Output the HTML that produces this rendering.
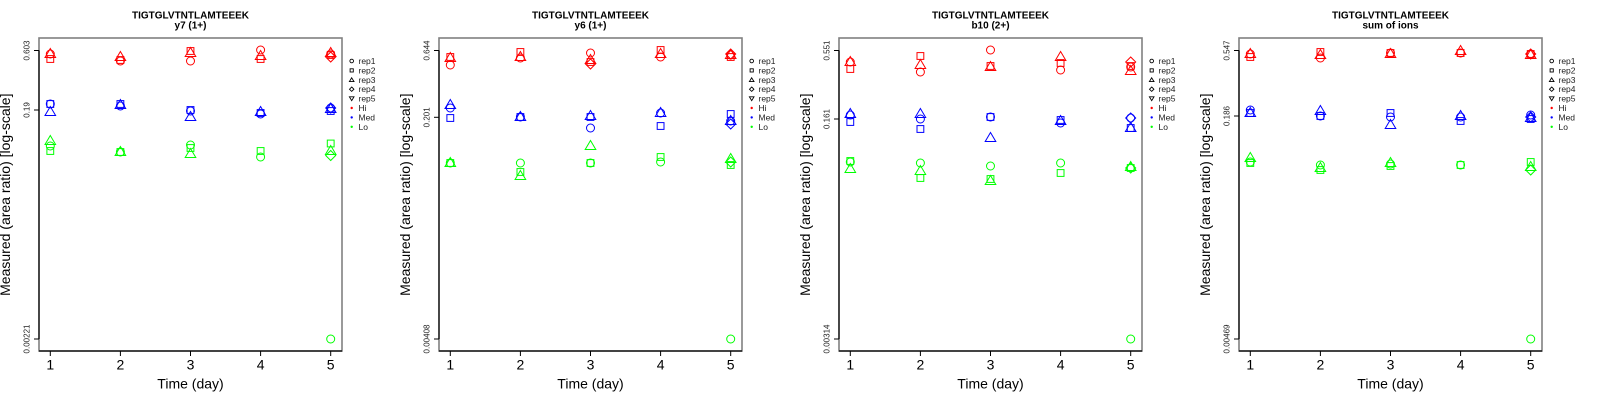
<!DOCTYPE html>
<html><head><meta charset="utf-8"><style>
html,body{margin:0;padding:0;background:#fff;}
svg{display:block;}
text{font-family:"Liberation Sans",Arial,sans-serif;}
.ti{font-size:10px;font-weight:bold;text-anchor:middle;fill:#000;}
.xl{font-size:14px;text-anchor:middle;fill:#000;}
.yt{font-size:8px;text-anchor:middle;fill:#222;}
.lg{font-size:8.5px;fill:#222;}
.R{stroke:#ff0000;fill:none;stroke-width:1;}
.B{stroke:#0000ff;fill:none;stroke-width:1;}
.G{stroke:#00ff00;fill:none;stroke-width:1;}
.K{stroke:#000;fill:none;stroke-width:0.9;}
</style></head><body>
<svg width="1600" height="400" viewBox="0 0 1600 400" xmlns="http://www.w3.org/2000/svg" xmlns:xlink="http://www.w3.org/1999/xlink">
<defs>
<circle id="c" cx="0" cy="0" r="4"/>
<rect id="s" x="-3.4" y="-3.4" width="6.8" height="6.8"/>
<path id="t" d="M0,-4.5 L5.3,4.5 L-5.3,4.5Z"/>
<path id="d" d="M0,-5 L5,0 L0,5 L-5,0Z"/>
<path id="v" d="M0,4.5 L5.3,-4.5 L-5.3,-4.5Z"/>
<circle id="lc" cx="0" cy="0" r="1.8"/>
<rect id="ls" x="-1.6" y="-1.6" width="3.2" height="3.2"/>
<path id="lt" d="M0,-2 L2.3,1.8 L-2.3,1.8Z"/>
<path id="ld" d="M0,-2.2 L2.2,0 L0,2.2 L-2.2,0Z"/>
<path id="lv" d="M0,2 L2.3,-1.8 L-2.3,-1.8Z"/>
<g id="frame">
<rect x="39" y="38" width="303" height="313" fill="none" stroke="#808080" stroke-width="1.6"/>
<line x1="39" y1="351" x2="342" y2="351" stroke="#000" stroke-width="1.2"/>
<line x1="39" y1="50.5" x2="39" y2="339" stroke="#000" stroke-width="1.2"/>
<g stroke="#000" stroke-width="1">
<line x1="50.3" y1="351" x2="50.3" y2="356"/>
<line x1="120.4" y1="351" x2="120.4" y2="356"/>
<line x1="190.5" y1="351" x2="190.5" y2="356"/>
<line x1="260.6" y1="351" x2="260.6" y2="356"/>
<line x1="330.7" y1="351" x2="330.7" y2="356"/>
<line x1="34" y1="50.5" x2="39" y2="50.5"/>
<line x1="34" y1="339" x2="39" y2="339"/>
</g>
</g>
<g id="legend">
<g class="K">
<use href="#lc" x="351.7" y="61"/>
<use href="#ls" x="351.7" y="70.4"/>
<use href="#lt" x="351.7" y="79.8"/>
<use href="#ld" x="351.7" y="89.2"/>
<use href="#lv" x="351.7" y="98.6"/>
</g>
<circle cx="351.7" cy="108" r="1.2" fill="#ff0000"/>
<circle cx="351.7" cy="117.4" r="1.2" fill="#0000ff"/>
<circle cx="351.7" cy="126.8" r="1.2" fill="#00ff00"/>
</g>
</defs>

<!-- ================= Panel 1 ================= -->
<g transform="translate(0,0)">
<use href="#frame"/>
<line x1="34" y1="110" x2="39" y2="110" stroke="#000"/>
<use href="#legend"/>
<text class="lg" x="358.5" y="64">rep1</text>
<text class="lg" x="358.5" y="73.4">rep2</text>
<text class="lg" x="358.5" y="82.8">rep3</text>
<text class="lg" x="358.5" y="92.2">rep4</text>
<text class="lg" x="358.5" y="101.6">rep5</text>
<text class="lg" x="358.5" y="111">Hi</text>
<text class="lg" x="358.5" y="120.4">Med</text>
<text class="lg" x="358.5" y="129.8">Lo</text>
<text class="ti" x="190.5" y="18.5">TIGTGLVTNTLAMTEEEK</text>
<text class="ti" x="190.5" y="28.5">y7 (1+)</text>
<text class="xl" x="50.3" y="369.5">1</text>
<text class="xl" x="120.4" y="369.5">2</text>
<text class="xl" x="190.5" y="369.5">3</text>
<text class="xl" x="260.6" y="369.5">4</text>
<text class="xl" x="330.7" y="369.5">5</text>
<text class="xl" x="190.5" y="388.5">Time (day)</text>
<text class="xl" transform="translate(10,194.7) rotate(-90)" x="0" y="0">Measured (area ratio) [log-scale]</text>
<text class="yt" transform="translate(29.5,50.5) rotate(-90)">0.603</text>
<text class="yt" transform="translate(29.5,110) rotate(-90)">0.19</text>
<text class="yt" transform="translate(29.5,339) rotate(-90)">0.00221</text>
<g class="R">
<use href="#c" x="50.3" y="54"/><use href="#s" x="50.3" y="59"/><use href="#t" x="50.3" y="53"/>
<use href="#c" x="120.4" y="61"/><use href="#s" x="120.4" y="60"/><use href="#t" x="120.4" y="56"/>
<use href="#c" x="190.5" y="61"/><use href="#s" x="190.5" y="51"/><use href="#t" x="190.5" y="52"/>
<use href="#c" x="260.6" y="50"/><use href="#s" x="260.6" y="59"/><use href="#t" x="260.6" y="55"/>
<use href="#c" x="330.7" y="54"/><use href="#s" x="330.7" y="55"/><use href="#t" x="330.7" y="52"/><use href="#d" x="330.7" y="57"/>
</g>
<g class="B">
<use href="#c" x="50.3" y="104"/><use href="#s" x="50.3" y="104"/><use href="#t" x="50.3" y="111"/>
<use href="#c" x="120.4" y="106"/><use href="#s" x="120.4" y="104"/><use href="#t" x="120.4" y="104"/>
<use href="#c" x="190.5" y="111"/><use href="#s" x="190.5" y="110"/><use href="#t" x="190.5" y="116"/>
<use href="#c" x="260.6" y="114"/><use href="#s" x="260.6" y="113"/><use href="#t" x="260.6" y="111"/>
<use href="#c" x="330.7" y="108"/><use href="#s" x="330.7" y="111"/><use href="#t" x="330.7" y="108"/><use href="#d" x="330.7" y="108"/>
</g>
<g class="G">
<use href="#c" x="50.3" y="146"/><use href="#s" x="50.3" y="151"/><use href="#t" x="50.3" y="140"/>
<use href="#c" x="120.4" y="152"/><use href="#s" x="120.4" y="152"/><use href="#t" x="120.4" y="151"/>
<use href="#c" x="190.5" y="145"/><use href="#s" x="190.5" y="148"/><use href="#t" x="190.5" y="153"/>
<use href="#c" x="260.6" y="157"/><use href="#s" x="260.6" y="151"/>
<use href="#c" x="330.7" y="339"/><use href="#s" x="330.7" y="143.5"/><use href="#t" x="330.7" y="150"/><use href="#d" x="330.7" y="155.5"/>
</g>
</g>

<!-- ================= Panel 2 ================= -->
<g transform="translate(400,0)">
<use href="#frame"/>
<line x1="34" y1="117.3" x2="39" y2="117.3" stroke="#000"/>
<use href="#legend"/>
<text class="lg" x="358.5" y="64">rep1</text>
<text class="lg" x="358.5" y="73.4">rep2</text>
<text class="lg" x="358.5" y="82.8">rep3</text>
<text class="lg" x="358.5" y="92.2">rep4</text>
<text class="lg" x="358.5" y="101.6">rep5</text>
<text class="lg" x="358.5" y="111">Hi</text>
<text class="lg" x="358.5" y="120.4">Med</text>
<text class="lg" x="358.5" y="129.8">Lo</text>
<text class="ti" x="190.5" y="18.5">TIGTGLVTNTLAMTEEEK</text>
<text class="ti" x="190.5" y="28.5">y6 (1+)</text>
<text class="xl" x="50.3" y="369.5">1</text>
<text class="xl" x="120.4" y="369.5">2</text>
<text class="xl" x="190.5" y="369.5">3</text>
<text class="xl" x="260.6" y="369.5">4</text>
<text class="xl" x="330.7" y="369.5">5</text>
<text class="xl" x="190.5" y="388.5">Time (day)</text>
<text class="xl" transform="translate(10,194.7) rotate(-90)" x="0" y="0">Measured (area ratio) [log-scale]</text>
<text class="yt" transform="translate(29.5,50.5) rotate(-90)">0.644</text>
<text class="yt" transform="translate(29.5,117.3) rotate(-90)">0.201</text>
<text class="yt" transform="translate(29.5,339) rotate(-90)">0.00408</text>
<g class="R">
<use href="#c" x="50.3" y="65"/><use href="#s" x="50.3" y="57"/><use href="#t" x="50.3" y="57"/>
<use href="#c" x="120.4" y="58"/><use href="#s" x="120.4" y="52"/><use href="#t" x="120.4" y="56"/>
<use href="#c" x="190.5" y="53"/><use href="#s" x="190.5" y="62"/><use href="#t" x="190.5" y="59"/><use href="#d" x="190.5" y="64"/>
<use href="#c" x="260.6" y="57"/><use href="#s" x="260.6" y="50"/><use href="#t" x="260.6" y="53"/>
<use href="#c" x="330.7" y="55"/><use href="#s" x="330.7" y="57"/><use href="#t" x="330.7" y="54"/><use href="#d" x="330.7" y="54"/>
</g>
<g class="B">
<use href="#c" x="50.3" y="108"/><use href="#s" x="50.3" y="118"/><use href="#t" x="50.3" y="104"/>
<use href="#c" x="120.4" y="117"/><use href="#s" x="120.4" y="117"/><use href="#t" x="120.4" y="116"/>
<use href="#c" x="190.5" y="128"/><use href="#s" x="190.5" y="117"/><use href="#t" x="190.5" y="115"/>
<use href="#c" x="260.6" y="113"/><use href="#s" x="260.6" y="126"/><use href="#t" x="260.6" y="112"/>
<use href="#c" x="330.7" y="121"/><use href="#s" x="330.7" y="114"/><use href="#t" x="330.7" y="120"/><use href="#d" x="330.7" y="124"/>
</g>
<g class="G">
<use href="#c" x="50.3" y="163"/><use href="#s" x="50.3" y="163"/><use href="#t" x="50.3" y="162"/>
<use href="#c" x="120.4" y="163"/><use href="#s" x="120.4" y="172"/><use href="#t" x="120.4" y="175"/>
<use href="#c" x="190.5" y="163"/><use href="#s" x="190.5" y="163"/><use href="#t" x="190.5" y="145"/>
<use href="#c" x="260.6" y="162"/><use href="#s" x="260.6" y="157"/>
<use href="#c" x="330.7" y="339"/><use href="#s" x="330.7" y="165"/><use href="#t" x="330.7" y="158"/><use href="#d" x="330.7" y="162"/>
</g>
</g>

<!-- ================= Panel 3 ================= -->
<g transform="translate(800,0)">
<use href="#frame"/>
<line x1="34" y1="119" x2="39" y2="119" stroke="#000"/>
<use href="#legend"/>
<text class="lg" x="358.5" y="64">rep1</text>
<text class="lg" x="358.5" y="73.4">rep2</text>
<text class="lg" x="358.5" y="82.8">rep3</text>
<text class="lg" x="358.5" y="92.2">rep4</text>
<text class="lg" x="358.5" y="101.6">rep5</text>
<text class="lg" x="358.5" y="111">Hi</text>
<text class="lg" x="358.5" y="120.4">Med</text>
<text class="lg" x="358.5" y="129.8">Lo</text>
<text class="ti" x="190.5" y="18.5">TIGTGLVTNTLAMTEEEK</text>
<text class="ti" x="190.5" y="28.5">b10 (2+)</text>
<text class="xl" x="50.3" y="369.5">1</text>
<text class="xl" x="120.4" y="369.5">2</text>
<text class="xl" x="190.5" y="369.5">3</text>
<text class="xl" x="260.6" y="369.5">4</text>
<text class="xl" x="330.7" y="369.5">5</text>
<text class="xl" x="190.5" y="388.5">Time (day)</text>
<text class="xl" transform="translate(10,194.7) rotate(-90)" x="0" y="0">Measured (area ratio) [log-scale]</text>
<text class="yt" transform="translate(29.5,50.5) rotate(-90)">0.551</text>
<text class="yt" transform="translate(29.5,119) rotate(-90)">0.161</text>
<text class="yt" transform="translate(29.5,339) rotate(-90)">0.00314</text>
<g class="R">
<use href="#c" x="50.3" y="62"/><use href="#s" x="50.3" y="69"/><use href="#t" x="50.3" y="61"/>
<use href="#c" x="120.4" y="72"/><use href="#s" x="120.4" y="56"/><use href="#t" x="120.4" y="64"/>
<use href="#c" x="190.5" y="50"/><use href="#s" x="190.5" y="66"/><use href="#t" x="190.5" y="66"/>
<use href="#c" x="260.6" y="70"/><use href="#s" x="260.6" y="63"/><use href="#t" x="260.6" y="56"/>
<use href="#c" x="330.7" y="67"/><use href="#s" x="330.7" y="66"/><use href="#t" x="330.7" y="70"/><use href="#d" x="330.7" y="62"/>
</g>
<g class="B">
<use href="#c" x="50.3" y="115"/><use href="#s" x="50.3" y="122"/><use href="#t" x="50.3" y="113"/>
<use href="#c" x="120.4" y="119"/><use href="#s" x="120.4" y="129"/><use href="#t" x="120.4" y="113"/>
<use href="#c" x="190.5" y="117"/><use href="#s" x="190.5" y="117"/><use href="#t" x="190.5" y="137"/>
<use href="#c" x="260.6" y="123"/><use href="#s" x="260.6" y="120"/><use href="#t" x="260.6" y="120"/>
<use href="#c" x="330.7" y="118"/><use href="#s" x="330.7" y="128"/><use href="#t" x="330.7" y="127"/><use href="#d" x="330.7" y="118"/>
</g>
<g class="G">
<use href="#c" x="50.3" y="162"/><use href="#s" x="50.3" y="161"/><use href="#t" x="50.3" y="168"/>
<use href="#c" x="120.4" y="163"/><use href="#s" x="120.4" y="178"/><use href="#t" x="120.4" y="170"/>
<use href="#c" x="190.5" y="166"/><use href="#s" x="190.5" y="179"/><use href="#t" x="190.5" y="180"/>
<use href="#c" x="260.6" y="163"/><use href="#s" x="260.6" y="173"/>
<use href="#c" x="330.7" y="339"/><use href="#s" x="330.7" y="168"/><use href="#t" x="330.7" y="166"/><use href="#d" x="330.7" y="168"/>
</g>
</g>

<!-- ================= Panel 4 ================= -->
<g transform="translate(1200,0)">
<use href="#frame"/>
<line x1="34" y1="116" x2="39" y2="116" stroke="#000"/>
<use href="#legend"/>
<text class="lg" x="358.5" y="64">rep1</text>
<text class="lg" x="358.5" y="73.4">rep2</text>
<text class="lg" x="358.5" y="82.8">rep3</text>
<text class="lg" x="358.5" y="92.2">rep4</text>
<text class="lg" x="358.5" y="101.6">rep5</text>
<text class="lg" x="358.5" y="111">Hi</text>
<text class="lg" x="358.5" y="120.4">Med</text>
<text class="lg" x="358.5" y="129.8">Lo</text>
<text class="ti" x="190.5" y="18.5">TIGTGLVTNTLAMTEEEK</text>
<text class="ti" x="190.5" y="28.5">sum of ions</text>
<text class="xl" x="50.3" y="369.5">1</text>
<text class="xl" x="120.4" y="369.5">2</text>
<text class="xl" x="190.5" y="369.5">3</text>
<text class="xl" x="260.6" y="369.5">4</text>
<text class="xl" x="330.7" y="369.5">5</text>
<text class="xl" x="190.5" y="388.5">Time (day)</text>
<text class="xl" transform="translate(10,194.7) rotate(-90)" x="0" y="0">Measured (area ratio) [log-scale]</text>
<text class="yt" transform="translate(29.5,50.5) rotate(-90)">0.547</text>
<text class="yt" transform="translate(29.5,116) rotate(-90)">0.186</text>
<text class="yt" transform="translate(29.5,339) rotate(-90)">0.00469</text>
<g class="R">
<use href="#c" x="50.3" y="54"/><use href="#s" x="50.3" y="57"/><use href="#t" x="50.3" y="53"/>
<use href="#c" x="120.4" y="58"/><use href="#s" x="120.4" y="52"/><use href="#t" x="120.4" y="54"/>
<use href="#c" x="190.5" y="53"/><use href="#s" x="190.5" y="53"/><use href="#t" x="190.5" y="53"/>
<use href="#c" x="260.6" y="53"/><use href="#s" x="260.6" y="53"/><use href="#t" x="260.6" y="50"/>
<use href="#c" x="330.7" y="54"/><use href="#s" x="330.7" y="54"/><use href="#t" x="330.7" y="54"/><use href="#d" x="330.7" y="54"/>
</g>
<g class="B">
<use href="#c" x="50.3" y="110"/><use href="#s" x="50.3" y="113"/><use href="#t" x="50.3" y="112"/>
<use href="#c" x="120.4" y="116"/><use href="#s" x="120.4" y="116"/><use href="#t" x="120.4" y="110"/>
<use href="#c" x="190.5" y="117"/><use href="#s" x="190.5" y="113"/><use href="#t" x="190.5" y="124"/>
<use href="#c" x="260.6" y="117"/><use href="#s" x="260.6" y="121"/><use href="#t" x="260.6" y="115"/>
<use href="#c" x="330.7" y="115"/><use href="#s" x="330.7" y="119"/><use href="#t" x="330.7" y="117"/><use href="#d" x="330.7" y="117"/>
</g>
<g class="G">
<use href="#c" x="50.3" y="162"/><use href="#s" x="50.3" y="163"/><use href="#t" x="50.3" y="157"/>
<use href="#c" x="120.4" y="165"/><use href="#s" x="120.4" y="170"/><use href="#t" x="120.4" y="167"/>
<use href="#c" x="190.5" y="164"/><use href="#s" x="190.5" y="166"/><use href="#t" x="190.5" y="162"/>
<use href="#c" x="260.6" y="165"/><use href="#s" x="260.6" y="165"/>
<use href="#c" x="330.7" y="339"/><use href="#s" x="330.7" y="162"/><use href="#t" x="330.7" y="166"/><use href="#d" x="330.7" y="170"/>
</g>
</g>
</svg>
</body></html>
